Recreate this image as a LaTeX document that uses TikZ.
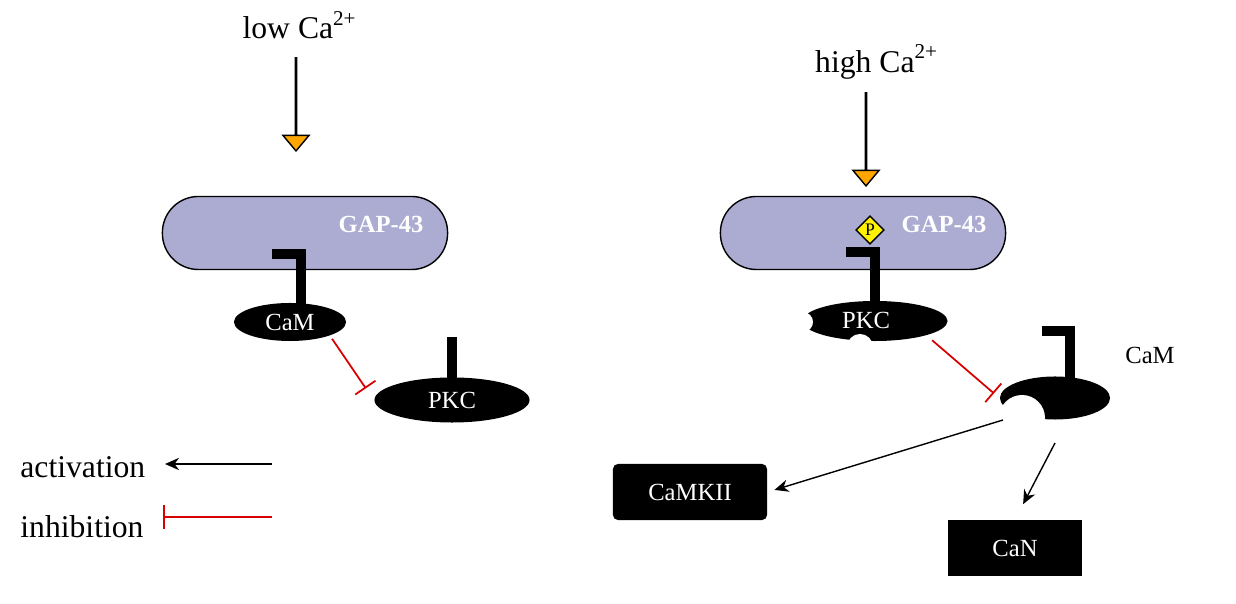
\documentclass[tikz,border=0pt]{standalone}
\usepackage{fontspec}
\setmainfont{Liberation Serif}
\usetikzlibrary{shapes.geometric,shapes.arrows,arrows.meta,positioning}

\begin{document}
\begin{tikzpicture}[
    x=0.01cm, y=-0.01cm,
    % Stili
    membrane/.style={
        rectangle, draw, rounded corners=0.36cm, fill=blue!30!gray!50,
        minimum width=2.85cm, minimum height=0.73cm, line width=0.4pt
    },
    gaplabel/.style={font=\scriptsize\bfseries, text=white},
    protein/.style={
        ellipse, fill=black, text=white, font=\scriptsize, inner sep=0pt
    },
    box/.style={
        rectangle, fill=black, text=white, font=\scriptsize
    },
    influx/.style={
        single arrow, draw, fill=orange!70!yellow, rotate=-90,
        single arrow head extend=0.12cm, minimum height=0.93cm, minimum width=0.26cm,
        inner sep=0pt, single arrow tip angle=80
    },
    stem/.style={line width=2.6pt},
    arrow/.style={-{Stealth[length=4pt,width=3.5pt]}, line width=0.4pt},
    inhibit/.style={-{Bar[width=7pt]}, red!85!black, line width=0.5pt}
]
\useasboundingbox (0,0) rectangle (1236,604);

% Lato sinistro: basso Ca2+
\node[font=\small] (lowca) at (300,25) {low Ca\textsuperscript{2+}};
\node[influx] (inflow1) at (296,104) {};
\node[membrane] (gap1) at (305,233) {};
\node[gaplabel] at (381,224) {GAP-43};
\node[protein, minimum width=1.12cm, minimum height=0.38cm] (cam1) at (290,322) {CaM};
\node[protein, minimum width=1.55cm, minimum height=0.45cm] (pkc1) at (452,400) {PKC};
\draw[stem] (272,254) -- (301,254) -- (301,305);
\draw[stem] (452,337) -- (452,380);
\draw[inhibit, shorten <=1pt, shorten >=4pt] (cam1.south east) -- (pkc1.west);

% Legenda
\node[font=\small, anchor=west] (actlabel) at (8,467) {activation};
\node[font=\small, anchor=west] (inhlabel) at (8,527) {inhibition};
\coordinate (act_a) at (272,464);
\coordinate (act_b) at (165,464);
\coordinate (inh_a) at (272,517);
\coordinate (inh_b) at (163,517);
\draw[arrow] (act_a) -- (act_b);
\draw[inhibit] (inh_a) -- (inh_b);

% Lato destro: alto Ca2+
\node[font=\small] (highca) at (877,62) {high Ca\textsuperscript{2+}};
\node[influx] (inflow2) at (866,139) {};
\node[membrane] (gap2) at (863,233) {};
\node[gaplabel] at (944,224) {GAP-43};

% PKC con tasche
\node[protein, minimum width=1.45cm, minimum height=0.40cm] (pkc2) at (875,321) {};
\fill[white] (803,322) circle (10);
\fill[white] (860,347) circle (13);
\node[text=white, font=\scriptsize] at (866,320) {PKC};
\draw[stem] (846,252) -- (875,252) -- (875,305);
\node[diamond, draw, fill=yellow, inner sep=0.5pt, font=\tiny] (phos) at (870,230) {P};

% CaM a mezzaluna
\node[ellipse, fill=black, minimum width=1.10cm, minimum height=0.43cm] (cam2) at (1055,398) {};
\fill[white] (1022,418) circle (23);
\draw[stem] (1042,331) -- (1070,331) -- (1070,378);
\node[font=\scriptsize] (camlabel) at (1150,355) {CaM};
\draw[inhibit, shorten <=2pt, shorten >=2pt] (pkc2.south east) -- (cam2.west);

% Bersagli
\node[box, rounded corners=0.05cm, minimum width=1.54cm, minimum height=0.56cm] (camkii) at (690,492) {CaMKII};
\node[box, minimum width=1.34cm, minimum height=0.55cm] (can) at (1015,548) {CaN};
\coordinate (cam2_a) at (1003,420);
\coordinate (cam2_b) at (1055,443);
\draw[arrow, shorten >=2pt] (cam2_a) -- (camkii.east);
\draw[arrow, shorten >=5pt] (cam2_b) -- (can.north);
\end{tikzpicture}
\end{document}
